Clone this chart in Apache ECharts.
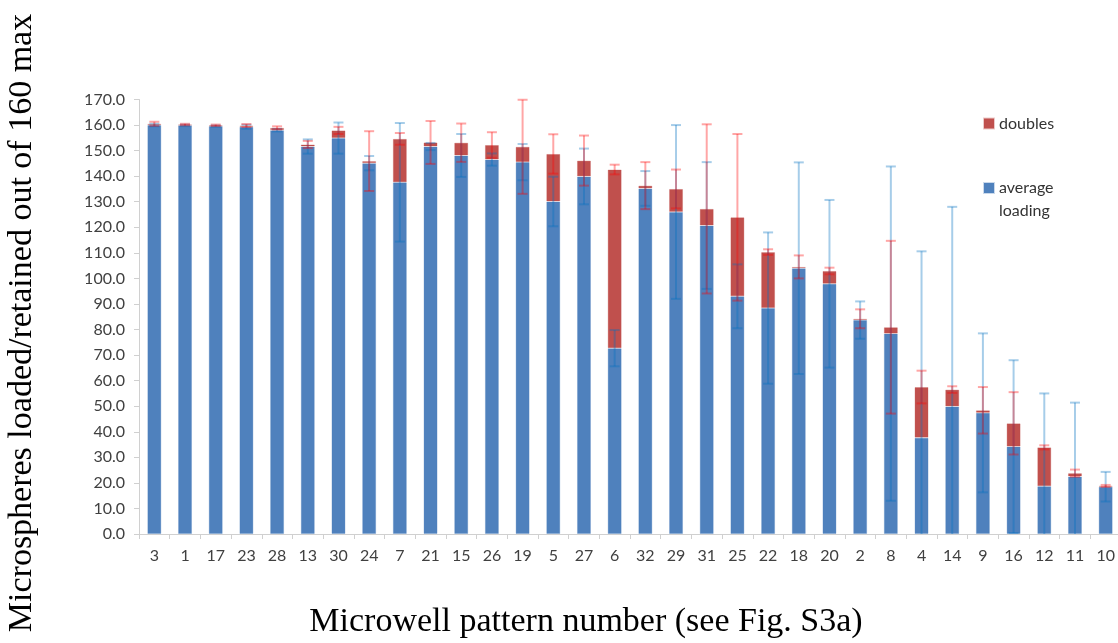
<!DOCTYPE html>
<html><head><meta charset="utf-8">
<script src="https://cdn.jsdelivr.net/npm/echarts@6/dist/echarts.min.js"></script>
<style>html,body{margin:0;padding:0;overflow:hidden;background:#fff}#c{width:1122px;height:643px}</style>
</head><body><div id="c"></div>
<script>
const categories = ['3','1','17','23','28','13','30','24','7','21','15','26','19','5','27','6','32','29','31','25','22','18','20','2','8','4','14','9','16','12','11','10'];
const averageLoading = [160.0,159.9,159.6,159.3,158.0,151.6,154.9,145.1,137.6,151.6,148.1,146.5,145.5,130.1,139.9,72.7,135.2,126.0,120.7,93.0,88.4,104.0,97.9,83.7,78.4,37.7,49.9,47.4,34.2,18.7,22.5,18.5];
const doubles = [0.5,0.3,0.3,0.5,0.9,0.8,3.0,0.8,17.0,1.6,5.0,5.7,6.0,18.6,6.2,69.9,1.1,9.0,6.5,30.9,21.9,0.5,5.0,0.5,2.5,19.8,6.6,1.0,9.1,15.2,1.3,0.3];
const averageErr = [0.5,0.3,0.3,0.8,0.5,2.8,6.1,2.8,23.2,1.4,8.4,2.4,7.1,9.7,10.9,7.1,6.8,34.0,24.8,12.5,29.6,41.4,32.8,7.3,65.4,72.9,78.1,31.1,33.8,36.3,28.9,5.8];
const doublesErr = [0.8,0.3,0.3,0.6,0.6,1.4,1.4,11.7,2.3,8.4,7.5,5.0,18.4,7.7,9.8,1.9,9.2,7.6,33.1,32.6,1.1,4.5,1.3,3.7,33.8,6.4,1.3,9.1,12.2,0.8,1.4,0.4];
const yMin = 0, yMax = 170, yStep = 10;

const totals = averageLoading.map((v, i) => v + doubles[i]);

function errSeries(name, centers, errs, color) {
  return {
    type: 'custom', name: name, silent: true, z: 5,
    encode: { x: 0, y: 1 },
    data: centers.map((c, i) => [i, c, errs[i]]),
    renderItem: function (params, api) {
      const i = api.value(0), c = api.value(1), e = api.value(2);
      const lo = Math.max(yMin, c - e), hi = c + e;
      const pHi = api.coord([i, hi]);
      const pLo = api.coord([i, lo]);
      const half = 5;
      const st = { stroke: color, lineWidth: 2 };
      const children = [
        { type: 'line', shape: { x1: pHi[0], y1: pHi[1], x2: pLo[0], y2: pLo[1] }, style: st },
        { type: 'line', shape: { x1: pHi[0] - half, y1: pHi[1], x2: pHi[0] + half, y2: pHi[1] }, style: st }
      ];
      if (c - e >= yMin) {
        children.push({ type: 'line', shape: { x1: pLo[0] - half, y1: pLo[1], x2: pLo[0] + half, y2: pLo[1] }, style: st });
      }
      return { type: 'group', children: children };
    }
  };
}

const labelFont = 'Lato, "DejaVu Sans", sans-serif';
const serif = '"Liberation Serif", "DejaVu Serif", serif';

const chart = echarts.init(document.getElementById('c'));
chart.setOption({
  animation: false,
  backgroundColor: '#ffffff',
  grid: { left: 139, right: 1, top: 99.5, bottom: 109, containLabel: false },
  xAxis: {
    type: 'category', data: categories,
    axisLine: { lineStyle: { color: '#d0d0d0', width: 1 } },
    axisTick: { show: true, length: 5, lineStyle: { color: '#d0d0d0' } },
    axisLabel: { interval: 0, margin: 14, fontSize: 16, color: '#404040', fontFamily: labelFont }
  },
  yAxis: {
    type: 'value', min: yMin, max: yMax, interval: yStep,
    axisLine: { show: true, lineStyle: { color: '#d0d0d0', width: 1 } },
    axisTick: { show: true, length: 5, lineStyle: { color: '#d0d0d0' } },
    splitLine: { show: false },
    axisLabel: { margin: 14, fontSize: 16, color: '#404040', fontFamily: labelFont, formatter: v => v.toFixed(1) }
  },
  legend: [
    {
      left: 983, top: 115.5, padding: 0, itemWidth: 10, itemHeight: 10, icon: 'rect', selectedMode: false,
      data: ['doubles'],
      textStyle: { fontSize: 16, color: '#333', fontFamily: labelFont }
    },
    {
      left: 983, top: 153.5, padding: 0, itemWidth: 10, itemHeight: 10, icon: 'rect', selectedMode: false,
      data: ['average loading'],
      formatter: n => n === 'average loading' ? '\naverage\nloading' : n,
      textStyle: { fontSize: 16, color: '#333', fontFamily: labelFont, lineHeight: 23 }
    }
  ],
  graphic: [
    {
      type: 'text', x: 22, y: 323, rotation: Math.PI / 2,
      style: { text: 'Microspheres loaded/retained out of 160 max', font: '34px ' + serif, fill: '#000', align: 'center', verticalAlign: 'middle' }
    },
    {
      type: 'text', x: 586, y: 622,
      style: { text: 'Microwell pattern number (see Fig. S3a)', font: '34px ' + serif, fill: '#000', align: 'center', verticalAlign: 'middle' }
    }
  ],
  series: [
    { name: 'average loading', type: 'bar', stack: 'a', barWidth: 14, data: averageLoading,
      itemStyle: { color: '#4F81BD', borderColor: 'rgba(79,129,189,0.3)', borderWidth: 1 } },
    { name: 'doubles', type: 'bar', stack: 'a', barWidth: 14, data: doubles,
      itemStyle: { color: '#C0504D', borderColor: 'rgba(192,80,77,0.3)', borderWidth: 1 } },
    errSeries('average loading error', averageLoading, averageErr, 'rgba(0,112,192,0.35)'),
    errSeries('doubles error', totals, doublesErr, 'rgba(255,0,0,0.35)')
  ]
});
</script>
</body></html>
